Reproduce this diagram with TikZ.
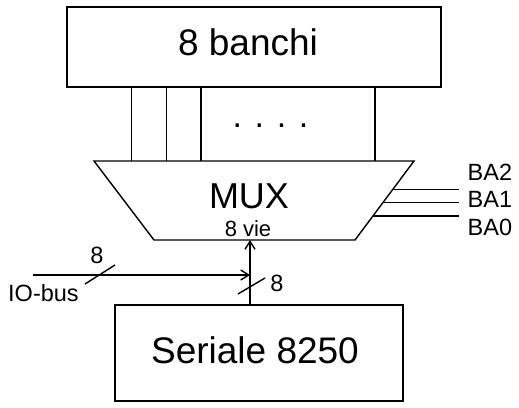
\documentclass[tikz,border=0pt]{standalone}
\usepackage{fontspec}
\setmainfont{Liberation Sans}
\usetikzlibrary{arrows.meta}
\tikzset{
  box/.style={draw, line width=2pt},
  wire/.style={line width=1.4pt},
  lbl/.style={inner sep=0pt, anchor=base},
  big/.style={font=\fontsize{37}{40}\selectfont},
  small/.style={font=\fontsize{23.5}{26}\selectfont},
  tip/.style={-{Straight Barb[length=8pt,width=10pt,line width=1.4pt]}}
}
\begin{document}
\begin{tikzpicture}[x=1pt,y=-1pt]
\useasboundingbox (0,0) rectangle (519,407);
% boxes
\draw[box] (66.7,7.3) rectangle (440.7,87.3);
\node[lbl,big] (banchi) at (248,55.5) {8 banchi};
\draw[box] (115,305) rectangle (403,401);
\node[lbl,big] (ser) at (255,363.5) {Seriale 8250};
% MUX
\coordinate (mtl) at (94,161);
\coordinate (mtr) at (414,161);
\coordinate (mbr) at (355,240);
\coordinate (mbl) at (154,240);
\draw[wire] (mtl) -- (mtr) -- (mbr) -- (mbl) -- cycle;
\node[lbl,font=\fontsize{36}{40}\selectfont] (mux) at (249,208) {MUX};
\node[lbl,font=\fontsize{22}{24}\selectfont] (vie) at (248,236.5) {8 vie};
% bank lines
\foreach \x in {131.7,166.7,201,375}
  \draw[wire] (\x,87.3) -- (\x,161);
\node[lbl,font=\fontsize{34}{40}\selectfont] (dots) at (270.5,127) {. . . .};
% BA lines
\foreach \y/\t/\b in {189.3/BA2/180, 202.3/BA1/207.3, 216/BA0/235}{
  \pgfmathsetmacro{\xs}{414-0.747*(\y-161)}
  \draw[wire] (\xs,\y) -- (459,\y);
  \node[lbl,small,anchor=base west] at (467.5,\b) {\t};
}
% IO-bus
\coordinate (iob) at (33,275);
\coordinate (join) at (250,275);
\draw[wire,tip] (iob) -- (join);
\draw[wire] (85,284) -- (115,265);
\node[lbl,small] (n8a) at (97,263) {8};
\node[lbl,small,anchor=base west] (iobus) at (8,301.5) {IO-bus};
% vertical
\draw[wire,tip] (250,305) -- (250,240);
\draw[wire] (238,294) -- (265,278);
\node[lbl,small] (n8b) at (277,291) {8};
\end{tikzpicture}
\end{document}
